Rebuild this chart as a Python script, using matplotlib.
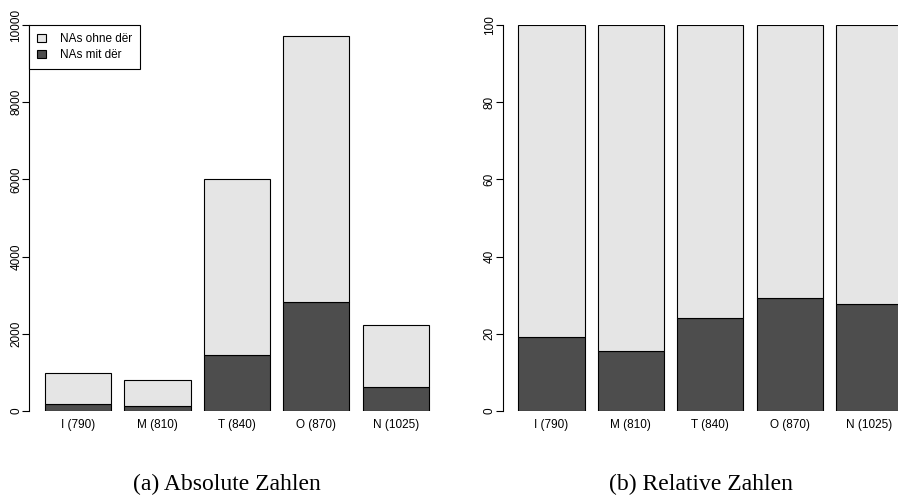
import numpy as np
import matplotlib
matplotlib.use('Agg')
import matplotlib.pyplot as plt
from matplotlib.patches import Patch

# Daten
kategorien = ['I (790)', 'M (810)', 'T (840)', 'O (870)', 'N (1025)']
gesamt = [993, 803, 6011, 9715, 2219]          # alle NAs
mit_der = [189, 125, 1442, 2833, 614]          # NAs mit dër
ohne_der = [g - m for g, m in zip(gesamt, mit_der)]
rel_mit = [19.1, 15.6, 24.1, 29.2, 27.8]       # Prozent
rel_ohne = [100 - r for r in rel_mit]

hell = '#e5e5e5'
dunkel = '#4d4d4d'

plt.rcParams['font.family'] = ['Liberation Sans', 'DejaVu Sans']

fig = plt.figure(figsize=(8.98, 4.96), dpi=100)
W, H = 898, 496


def achse(x0):
    # x0: linke Kante des Plotbereichs in Pixeln
    return fig.add_axes([x0 / W, (H - 411) / H, 428.7 / W, 386 / H])


x = 0.2 + 1.2 * np.arange(len(kategorien)) + 0.5


def balken(ax, unten, oben, ymax, ticks):
    ax.bar(x, unten, width=1, color=dunkel, edgecolor='black', linewidth=0.8)
    ax.bar(x, oben, width=1, bottom=unten, color=hell, edgecolor='black', linewidth=0.8)
    ax.set_xlim(-0.04, 6.44)
    ax.set_ylim(0, ymax)
    for s in ['top', 'right', 'bottom']:
        ax.spines[s].set_visible(False)
    ax.spines['left'].set_bounds(0, ymax)
    ax.spines['left'].set_linewidth(0.8)
    ax.set_yticks(ticks)
    ax.tick_params(axis='y', length=5, width=0.8, pad=0, labelsize=8.5, labelrotation=90)
    for lab in ax.get_yticklabels():
        lab.set_va('center')
    ax.set_xticks(x)
    ax.set_xticklabels(kategorien)
    ax.tick_params(axis='x', length=0, pad=6, labelsize=8.5)


# (a) absolute Zahlen
ax1 = achse(29.2)
balken(ax1, mit_der, ohne_der, 10000, range(0, 10001, 2000))
leg = ax1.legend(handles=[Patch(facecolor=hell, edgecolor='black', linewidth=0.8, label='NAs ohne dër'),
                          Patch(facecolor=dunkel, edgecolor='black', linewidth=0.8, label='NAs mit dër')],
                 loc='upper left', bbox_to_anchor=(0.0, 1.0), borderaxespad=0, fontsize=8.5,
                 fancybox=False, edgecolor='black', framealpha=1, handlelength=0.7, handleheight=0.7,
                 handletextpad=1.2, labelspacing=0.3, borderpad=0.7)
leg.get_frame().set_linewidth(0.8)

# (b) relative Zahlen
ax2 = achse(502.5)
balken(ax2, rel_mit, rel_ohne, 100, range(0, 101, 20))

# Unterschriften
fig.text(227 / W, (H - 490) / H, '(a) Absolute Zahlen', ha='center', va='baseline',
         family=['Liberation Serif', 'DejaVu Serif'], fontsize=17)
fig.text(700.5 / W, (H - 490) / H, '(b) Relative Zahlen', ha='center', va='baseline',
         family=['Liberation Serif', 'DejaVu Serif'], fontsize=17)

fig.savefig('out.png', dpi=100)
